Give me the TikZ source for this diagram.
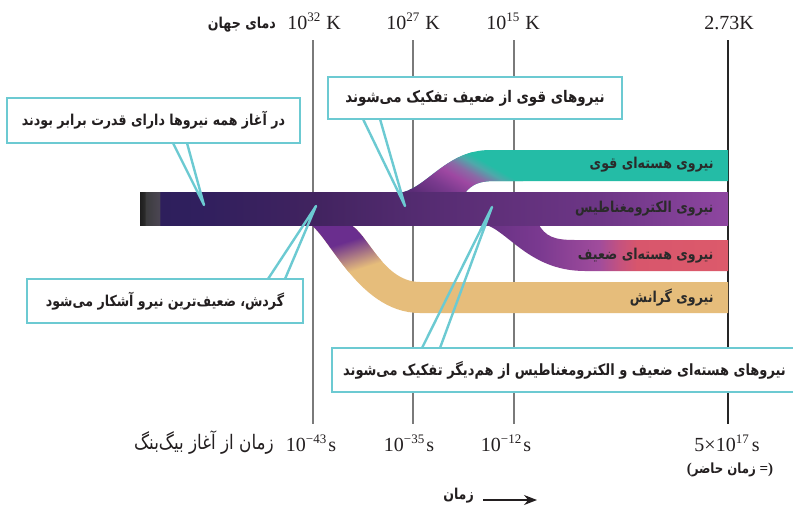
\documentclass[tikz,border=0pt]{standalone}
\usepackage{fontspec}
\setmainfont{Liberation Serif}
\newfontfamily\fa[Script=Arabic, FakeStretch=0.84]{DejaVu Sans}
\TeXXeTstate=1
\usetikzlibrary{arrows.meta}
\definecolor{cyanb}{HTML}{6CCAD2}
\definecolor{strongc}{HTML}{24BCA6}
\definecolor{gravc}{HTML}{E6BD7B}
\definecolor{gravp}{HTML}{6A2E8E}
\definecolor{vgray}{HTML}{7A7A7A}
\definecolor{txt}{HTML}{231F20}
\definecolor{bandtxt}{HTML}{2A2A2A}
\definecolor{mb0}{HTML}{1E1E1E}
\definecolor{mb1}{HTML}{2A2A2A}
\definecolor{mb2}{HTML}{3C3C3E}
\definecolor{mb3}{HTML}{4A4552}
\definecolor{mb4}{HTML}{2E1F5C}
\definecolor{mb5}{HTML}{301F5E}
\definecolor{mb6}{HTML}{41235F}
\definecolor{mb7}{HTML}{532B70}
\definecolor{mb8}{HTML}{60307A}
\definecolor{mb9}{HTML}{6D3686}
\definecolor{mb10}{HTML}{8E46A0}
\definecolor{wk0}{HTML}{653182}
\definecolor{wk1}{HTML}{7A3990}
\definecolor{wk2}{HTML}{A04C9C}
\definecolor{wk3}{HTML}{C4527F}
\definecolor{wk4}{HTML}{D8566C}
\definecolor{wk5}{HTML}{DC5A6B}
\definecolor{st0}{HTML}{5A2C76}
\definecolor{st1}{HTML}{7A3A8E}
\definecolor{st2}{HTML}{9E48A2}
\definecolor{st3}{HTML}{8A6AA6}
\definecolor{st4}{HTML}{4FA8AA}
\pgfdeclarehorizontalshading{mainsh}{100bp}{color(0bp)=(mb0); color(25bp)=(mb0); color(25.38bp)=(mb1); color(25.51bp)=(mb2); color(26.62bp)=(mb3); color(26.74bp)=(mb4); color(30.1bp)=(mb5); color(39.71bp)=(mb6); color(48.21bp)=(mb7); color(55.61bp)=(mb8); color(64.12bp)=(mb9); color(75bp)=(mb10); color(100bp)=(mb10)}
\pgfdeclarehorizontalshading{weaksh}{100bp}{color(0bp)=(wk0); color(25bp)=(wk0); color(37.1bp)=(wk1); color(49.19bp)=(wk2); color(53.23bp)=(wk3); color(56.85bp)=(wk4); color(75bp)=(wk5); color(100bp)=(wk5)}
\pgfdeclarehorizontalshading{strongsh}{100bp}{color(0bp)=(st0); color(25bp)=(st0); color(40.4bp)=(st1); color(52.1bp)=(st2); color(59.9bp)=(st3); color(67.7bp)=(st4); color(73.2bp)=(strongc); color(100bp)=(strongc)}
\newcommand\sups[1]{\raisebox{8pt}{\fontsize{13}{13}\selectfont #1}}
\tikzset{
  vline/.style={draw=vgray, line width=1.4pt},
  callout/.style={draw=cyanb, line width=2.6pt, fill=white, inner sep=0pt, text=txt, font=\fa\bfseries\fontsize{15}{17}\selectfont},
  pointer/.style={draw=cyanb, line width=2.4pt, line join=round},
  bandlbl/.style={anchor=east, text=bandtxt, font=\fa\bfseries\fontsize{15}{17}\selectfont},
  num/.style={font=\fontsize{20}{22}\selectfont, text=txt, inner sep=0pt, anchor=base},
  falbl/.style={text=txt, inner sep=0pt, font=\fa\bfseries\fontsize{15}{17}\selectfont}
}
\begin{document}
\begin{tikzpicture}[x=1pt,y=-1pt]
\useasboundingbox (0,0) rectangle (793,507);
\fill[white] (0,0) rectangle (793,507);
% time lines
\draw[vline] (313,40) -- (313,424);
\draw[vline] (413,40) -- (413,424);
\draw[vline] (514,40) -- (514,424);
\draw[vline, draw=black!85, line width=1.2pt] (728,40) -- (728,424);
% gravity branch
\begin{scope}
  \clip (306,223) .. controls (325,224) and (355,313) .. (420,313) -- (728,313) -- (728,282) -- (420,282) .. controls (380,282) and (365,224) .. (345,223) -- cycle;
  \fill[gravc] (300,215) rectangle (730,320);
  \begin{scope}[transform canvas={rotate around={-72.5:(350,255)}}]
    \fill[gravp] (150,105) rectangle (337,405);
    \shade[left color=gravp, right color=gravc] (336,105) rectangle (366,405);
  \end{scope}
\end{scope}
% strong branch
\begin{scope}
  \clip (398,193) .. controls (425,191) and (445,150) .. (490,150) -- (728,150) -- (728,181) -- (495,181) .. controls (480,181) and (472,184) .. (465,193) -- cycle;
  \fill[strongc] (390,140) rectangle (730,200);
  \begin{scope}[transform canvas={rotate around={60:(465,165)}}]
    \fill[st0] (265,15) rectangle (417,315);
    \shade[shading=strongsh] (416,15) rectangle (480,315);
  \end{scope}
\end{scope}
% weak branch
\shade[shading=weaksh] (478,223) .. controls (505,224) and (525,271) .. (585,271) -- (728,271) -- (728,240) -- (575,240) .. controls (555,240) and (545,237) .. (538,223) -- cycle;
% main band + electromagnetic
\shade[shading=mainsh] (140,192) rectangle (728,225);
% band labels
\node[bandlbl] (lstrong) at (717,165) {\beginR نیروی هسته‌ای قوی\endR};
\node[bandlbl] (lem) at (717,209) {\beginR نیروی الکترومغناطیس\endR};
\node[bandlbl] (lweak) at (717,256) {\beginR نیروی هسته‌ای ضعیف\endR};
\node[bandlbl] (lgrav) at (717,298) {\beginR نیروی گرانش\endR};
% callouts
\node[callout, minimum width=293, minimum height=45] (b1) at (153.5,120.5) {\beginR در آغاز همه نیروها دارای قدرت برابر بودند\endR};
\node[callout, minimum width=294, minimum height=42] (b2) at (475,98) {\fontsize{16}{18}\selectfont\beginR نیروهای قوی از ضعیف تفکیک می‌شوند\endR};
\node[callout, minimum width=276, minimum height=44] (b3) at (165,301) {\beginR گردش، ضعیف‌ترین نیرو آشکار می‌شود\endR};
\node[callout, minimum width=465, minimum height=44] (b4) at (564.5,370) {\fontsize{15.5}{18}\selectfont\beginR نیروهای هسته‌ای ضعیف و الکترومغناطیس از هم‌دیگر تفکیک می‌شوند\endR};
% pointers
\coordinate (p1a) at (173,143); \coordinate (p1b) at (187,143); \coordinate (p1t) at (204,205);
\coordinate (p2a) at (363,119); \coordinate (p2b) at (380,119); \coordinate (p2t) at (405,206);
\coordinate (p3a) at (268,279); \coordinate (p3b) at (285,279); \coordinate (p3t) at (316,206);
\coordinate (p4a) at (422,348); \coordinate (p4b) at (440,348); \coordinate (p4t) at (492,207);
\draw[pointer] (p1a) -- (p1t) -- (p1b);
\draw[pointer] (p2a) -- (p2t) -- (p2b);
\draw[pointer] (p3a) -- (p3t) -- (p3b);
\draw[pointer] (p4a) -- (p4t) -- (p4b);
% temperatures
\node[falbl, anchor=base east] (tlbl) at (276,28) {\beginR دمای جهان\endR};
\node[num] (k32) at (314,29) {10\sups{32}\hspace{6pt}K};
\node[num] (k27) at (413,29) {10\sups{27}\hspace{6pt}K};
\node[num] (k15) at (513,29) {10\sups{15}\hspace{6pt}K};
\node[num] (k273) at (729,29) {2.73K};
% times
\node[falbl, anchor=base east, font=\fa\fontsize{20}{22}\selectfont] (blbl) at (274,449) {\beginR زمان از آغاز بیگ‌بنگ\endR};
\node[num] (s43) at (311,451) {10\sups{−43}\hspace{2pt}s};
\node[num] (s35) at (409,451) {10\sups{−35}\hspace{2pt}s};
\node[num] (s12) at (506,451) {10\sups{−12}\hspace{2pt}s};
\node[num] (s17) at (727,451) {5×10\sups{17}\hspace{3pt}s};
\node[falbl, font=\fa\bfseries\fontsize{14}{16}\selectfont] (now) at (730,470) {{\rmfamily\fontsize{15}{16}\selectfont(}\beginR زمان حاضر\endR{\rmfamily\fontsize{15}{16}\selectfont\ =)}};
\node[falbl, anchor=east] (zaman) at (474,496) {\beginR زمان\endR};
\coordinate (arS) at (483,500); \coordinate (arE) at (537,500);
\draw[-{Stealth[length=13pt,width=10pt]}, line width=1.2pt, draw=txt] (arS) -- (arE);
\end{tikzpicture}
\end{document}
